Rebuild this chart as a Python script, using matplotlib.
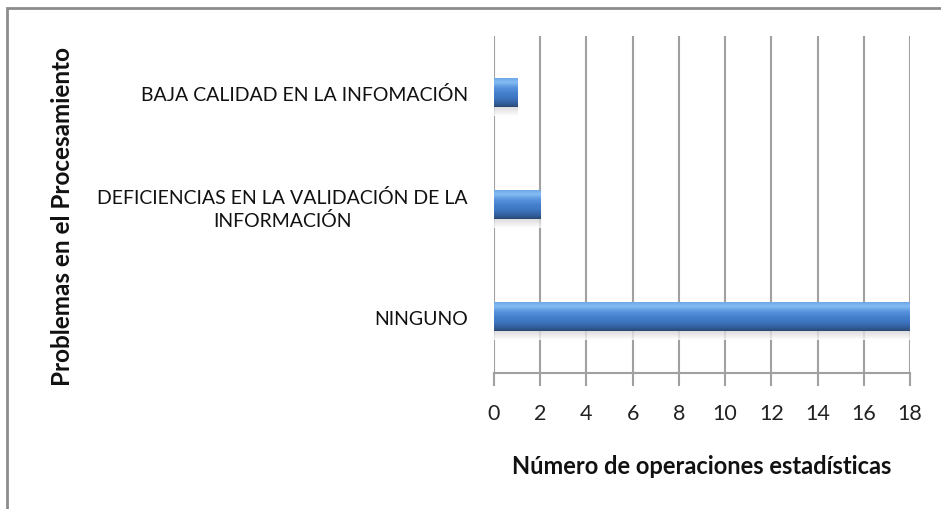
import numpy as np
import matplotlib.pyplot as plt
from matplotlib.patches import Rectangle
from matplotlib.colors import LinearSegmentedColormap

categorias = ['NINGUNO',
              'DEFICIENCIAS EN LA VALIDACIÓN DE LA\nINFORMACIÓN',
              'BAJA CALIDAD EN LA INFOMACIÓN']
valores = [18, 2, 1]
ticks_x = [0, 2, 4, 6, 8, 10, 12, 14, 16, 18]

plt.rcParams['font.family'] = ['Lato', 'DejaVu Sans']

fig = plt.figure(figsize=(9.41, 5.10), dpi=100)
ax = fig.add_axes([0.525, 0.267, 0.442, 0.66])

gris = '#a0a0a0'
y = np.arange(len(categorias))
barras = ax.barh(y, valores, height=0.26, color='#4a86d0', edgecolor='none', zorder=3)

# degradado tipo 3D dentro de cada barra (abajo oscuro, arriba claro)
grad = LinearSegmentedColormap.from_list(
    'azul', ['#2a4a78', '#3566a8', '#3f78c4', '#4682d0', '#5a96de', '#86bcf4', '#6aa2e4'])
g = np.linspace(0, 1, 64).reshape(-1, 1)
sombra = LinearSegmentedColormap.from_list('sombra', ['#ffffff', '#d4d4d4'])
for b in barras:
    x0, y0 = b.get_x(), b.get_y()
    w, h = b.get_width(), b.get_height()
    im = ax.imshow(g, cmap=grad, aspect='auto', origin='lower',
                   extent=[x0, x0 + w, y0, y0 + h], zorder=4)
    im.set_clip_path(b)
    # sombra suave debajo de la barra
    ax.imshow(g, cmap=sombra, aspect='auto', origin='lower', alpha=0.8,
              extent=[x0, x0 + w, y0 - 0.08, y0], zorder=2)

ax.set_xlim(0, 18)
ax.set_ylim(-0.5, 2.5)
ax.set_xticks(ticks_x)
ax.set_yticks(y)
ax.set_yticklabels(categorias)
for lab in ax.get_yticklabels():
    lab.set_multialignment('center')
    lab.set_linespacing(1.3)

ax.grid(axis='x', color=gris, linewidth=1.5, zorder=0)
for s in ['top', 'right', 'left']:
    ax.spines[s].set_visible(False)
ax.spines['bottom'].set_color(gris)
ax.spines['bottom'].set_linewidth(1.5)
ax.spines['bottom'].set_zorder(1)
ax.tick_params(axis='x', colors=gris, length=9, width=1.5, pad=13,
               labelsize=15.5, labelcolor='#222222')
ax.tick_params(axis='y', length=0, pad=19, labelsize=14, labelcolor='#111111')

ax.set_xlabel('Número de operaciones estadísticas', fontsize=17,
              fontweight='bold', labelpad=22, color='#111111')
fig.text(0.066, 0.575, 'Problemas en el Procesamiento', rotation=90,
         fontsize=17.5, fontweight='bold', ha='center', va='center', color='#111111')

fig.patches.append(Rectangle((0.007, -0.1), 1.1, 0.983 + 0.1, transform=fig.transFigure,
                             fill=False, edgecolor='#8c8c8c', linewidth=2))

fig.savefig('out.png', dpi=100)
